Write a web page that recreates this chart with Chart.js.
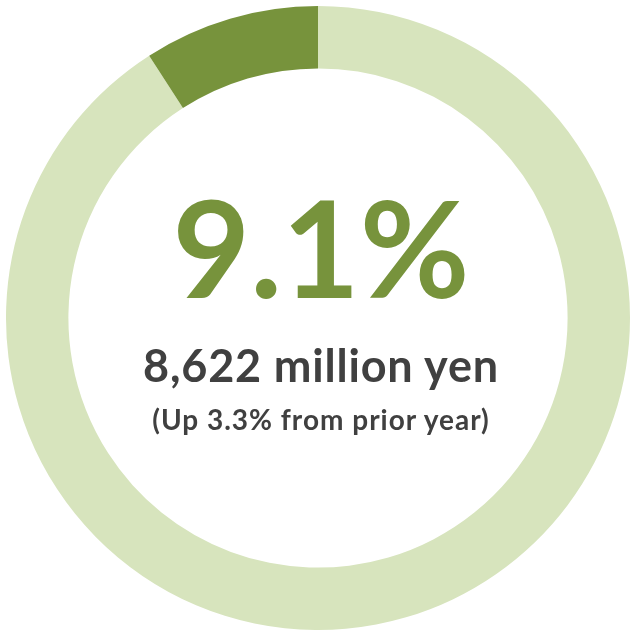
<!DOCTYPE html>
<html>
<head>
<meta charset="utf-8">
<script src="https://cdn.jsdelivr.net/npm/chart.js@4"></script>
<style>
  html, body { margin: 0; padding: 0; background: #ffffff; }
  body { width: 630px; height: 631px; position: relative; overflow: hidden; }
  #ring { position: absolute; left: 6px; top: 6px; }
  .label {
    position: absolute;
    left: 321px;
    transform: translateX(-50%);
    white-space: nowrap;
    font-family: Lato, "Open Sans", sans-serif;
    font-weight: 700;
    line-height: 1;
  }
  #pct { top: 180px; font-size: 134px; color: #77933c; }
  #amount { top: 343px; font-size: 45px; letter-spacing: 0.8px; color: #404040; }
  #change { top: 405px; font-size: 28px; letter-spacing: 1px; color: #404040; }
</style>
</head>
<body>
<canvas id="ring" width="624" height="624"></canvas>
<div class="label" id="pct"></div>
<div class="label" id="amount"></div>
<div class="label" id="change"></div>
<script>
// ratio shown in the middle of the ring, plus the remainder
const categories = ['Other', 'Ratio'];
const shares = [90.9, 9.1];
const segmentColors = ['#d7e4bd', '#77933c'];

const amountText = '8,622 million yen';
const changeText = '(Up 3.3% from prior year)';

document.getElementById('pct').textContent = shares[1] + '%';
document.getElementById('amount').textContent = amountText;
document.getElementById('change').textContent = changeText;

const ctx = document.getElementById('ring');
new Chart(ctx, {
    type: 'doughnut',
    data: {
        labels: categories,
        datasets: [{
            data: shares,
            backgroundColor: segmentColors,
            borderWidth: 0
        }]
    },
    options: {
        responsive: false,
        animation: false,
        cutout: '80%',
        rotation: 0,
        layout: { padding: 0 },
        plugins: {
            legend: { display: false },
            tooltip: { enabled: false }
        }
    }
});
</script>
</body>
</html>
